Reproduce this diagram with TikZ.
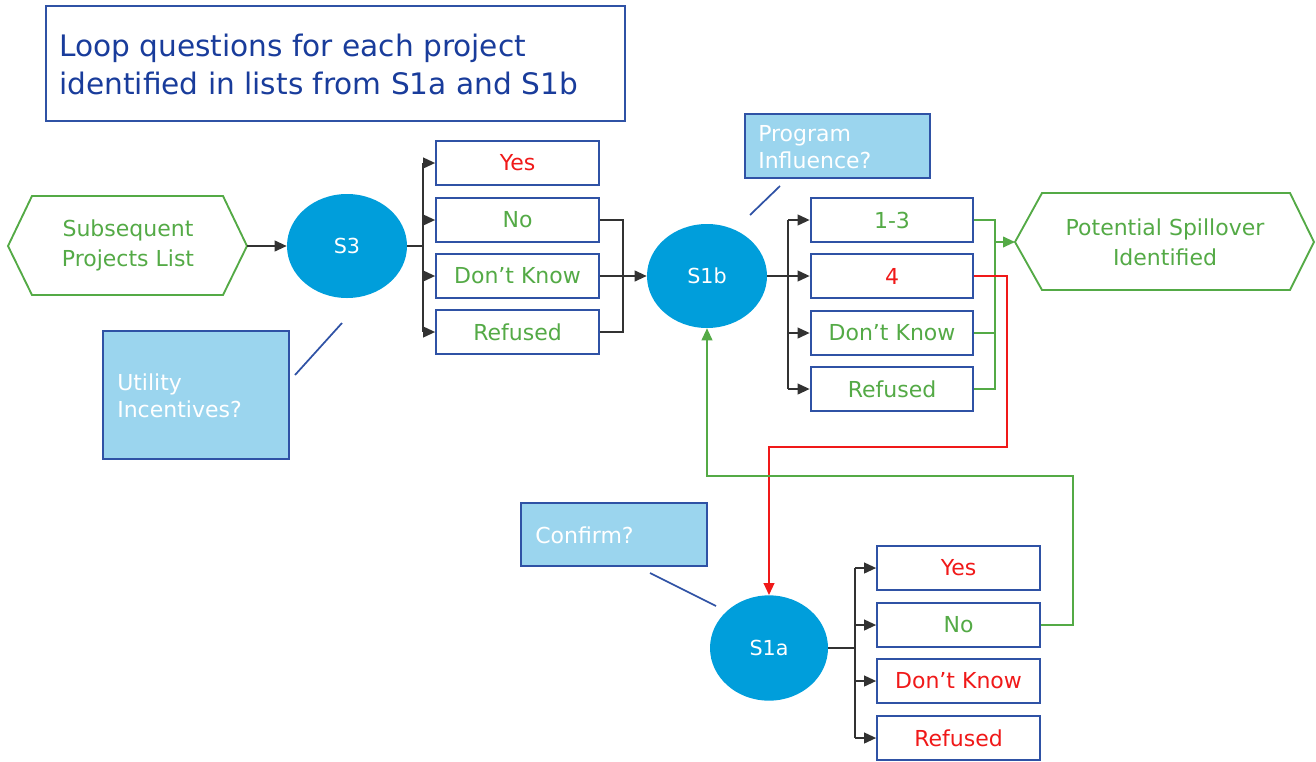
\documentclass[tikz,border=0pt]{standalone}
\usepackage{fontspec}
\setmainfont{DejaVu Sans}
\usetikzlibrary{shapes.geometric,arrows.meta}
\definecolor{bblue}{RGB}{47,82,165}
\definecolor{tblue}{RGB}{25,60,155}
\definecolor{cblue}{RGB}{0,158,219}
\definecolor{lblue}{RGB}{155,213,238}
\definecolor{ggreen}{RGB}{84,170,70}
\definecolor{rred}{RGB}{240,25,25}
\definecolor{cgray}{RGB}{50,50,50}
\begin{document}
\begin{tikzpicture}[x=0.75pt,y=-0.75pt,
  ansbox/.style={draw=bblue, line width=1.5pt, fill=white, minimum width=122pt, minimum height=33pt, inner sep=0pt, font=\fontsize{16.5}{19}\selectfont},
  qnode/.style={ellipse, fill=cblue, text=white, minimum width=90pt, minimum height=78pt, inner sep=0pt, font=\fontsize{15.5}{18}\selectfont},
  callout/.style={draw=bblue, line width=1.5pt, fill=lblue, inner sep=0pt},
  callouttext/.style={text=white, align=left, anchor=west, inner sep=0pt, font=\fontsize{16.5}{20}\selectfont},
  hexline/.style={draw=ggreen, line width=1.4pt},
  hextext/.style={text=ggreen, align=center, inner sep=0pt, font=\fontsize{16.5}{22.5}\selectfont},
  cline/.style={draw=cgray, line width=1.4pt},
  carr/.style={cline, -{Triangle[length=9pt,width=8pt]}},
  gline/.style={draw=ggreen, line width=1.4pt},
  garr/.style={gline, -{Triangle[length=9pt,width=8pt]}},
  rarr/.style={draw=rred, line width=1.4pt, -{Triangle[length=9pt,width=8pt]}},
  pointer/.style={draw=bblue, line width=1.3pt}
]
\useasboundingbox (0,0) rectangle (1316,761);

% title
\node[draw=bblue, line width=1.5pt, minimum width=434pt, minimum height=86pt, inner sep=0pt] (title) at (335.5,63.5) {};
\node[anchor=west, align=left, text=tblue, inner sep=0pt, font=\fontsize{22.2}{28.5}\selectfont] (titletext) at (59,64)
  {Loop questions for each project\\identified in lists from S1a and S1b};

% left hexagon
\draw[hexline] (8,246) -- (32,196) -- (223,196) -- (247,246) -- (223,295) -- (32,295) -- cycle;
\coordinate (hexAtip) at (247,246);
\node[hextext] (hexA) at (128,245) {Subsequent\\Projects List};

% right hexagon
\draw[hexline] (1015,242) -- (1042,193) -- (1290,193) -- (1314,242) -- (1290,290) -- (1042,290) -- cycle;
\coordinate (hexBtip) at (1015,242);
\node[hextext] (hexB) at (1165,242) {Potential Spillover\\Identified};

% question nodes
\node[qnode] (s3) at (347,246) {S3};
\node[qnode] (s1b) at (707,276) {S1b};
\node[qnode, minimum width=88.5pt, minimum height=79pt] (s1a) at (769,648) {S1a};

% S3 answers
\node[ansbox, text=rred] (s3y) at (517.5,163) {Yes};
\node[ansbox, text=ggreen] (s3n) at (517.5,220) {No};
\node[ansbox, text=ggreen] (s3d) at (517.5,276) {Don’t Know};
\node[ansbox, text=ggreen] (s3r) at (517.5,332) {Refused};

% S1b answers
\node[ansbox, text=ggreen] (bq1) at (892,220) {1-3};
\node[ansbox, text=rred] (bq4) at (892,276) {4};
\node[ansbox, text=ggreen] (bqd) at (892,333) {Don’t Know};
\node[ansbox, text=ggreen] (bqr) at (892,389) {Refused};

% S1a answers
\node[ansbox, text=rred] (ay) at (958.5,568) {Yes};
\node[ansbox, text=ggreen] (an) at (958.5,625) {No};
\node[ansbox, text=rred] (ad) at (958.5,681) {Don’t Know};
\node[ansbox, text=rred] (ar) at (958.5,738) {Refused};

% callouts
\node[callout, minimum width=139.5pt, minimum height=96pt] (cu) at (196,395) {};
\node[callouttext] (cut) at (117,396) {Utility\\Incentives?};
\draw[pointer] (295,375) -- (342,323);

\node[callout, minimum width=138.75pt, minimum height=48pt] (cp) at (837.5,146) {};
\node[callouttext] (cpt) at (758,147) {Program\\Influence?};
\draw[pointer] (750,215) -- (780,186);

\node[callout, minimum width=140pt, minimum height=47pt] (cc) at (614,534.5) {};
\node[callouttext] (cct) at (535,535) {Confirm?};
\draw[pointer] (650,573) -- (716,606);

% hexagon -> S3
\draw[carr] (hexAtip) -- (s3.west);

% S3 branches
\coordinate (j1) at (423,246);
\draw[cline] (s3.east) -- (j1);
\draw[cline] (j1 |- s3y) -- (j1 |- s3r);
\foreach \n in {s3y,s3n,s3d,s3r} \draw[carr] (j1 |- \n) -- (\n.west);

% S3 merge -> S1b
\coordinate (m1) at (623,0);
\draw[cline] (s3n.east) -- (s3n.east -| m1) -- (s3r.east -| m1) -- (s3r.east);
\draw[carr] (s3d.east) -- (s1b.west);

% S1b branches
\coordinate (j2) at (788,276);
\draw[cline] (s1b.east) -- (j2);
\draw[cline] (j2 |- bq1) -- (j2 |- bqr);
\foreach \n in {bq1,bq4,bqd,bqr} \draw[carr] (j2 |- \n) -- (\n.west);

% green merge -> spillover
\coordinate (m2) at (995,0);
\draw[gline] (bq1.east) -- (bq1.east -| m2) -- (bqr.east -| m2) -- (bqr.east);
\draw[gline] (bqd.east) -- (bqd.east -| m2);
\draw[garr] (hexBtip -| m2) -- (hexBtip);

% red: 4 -> S1a
\coordinate (r1) at (1007,447);
\draw[rarr] (bq4.east) -| (r1) -| (s1a.north);

% S1a branches
\coordinate (j3) at (855,648);
\draw[cline] (s1a.east) -- (j3);
\draw[cline] (j3 |- ay) -- (j3 |- ar);
\foreach \n in {ay,an,ad,ar} \draw[carr] (j3 |- \n) -- (\n.west);

% green: No -> S1b
\coordinate (g1) at (1073,476);
\draw[garr] (an.east) -| (g1) -| (s1b.south);
\end{tikzpicture}
\end{document}
